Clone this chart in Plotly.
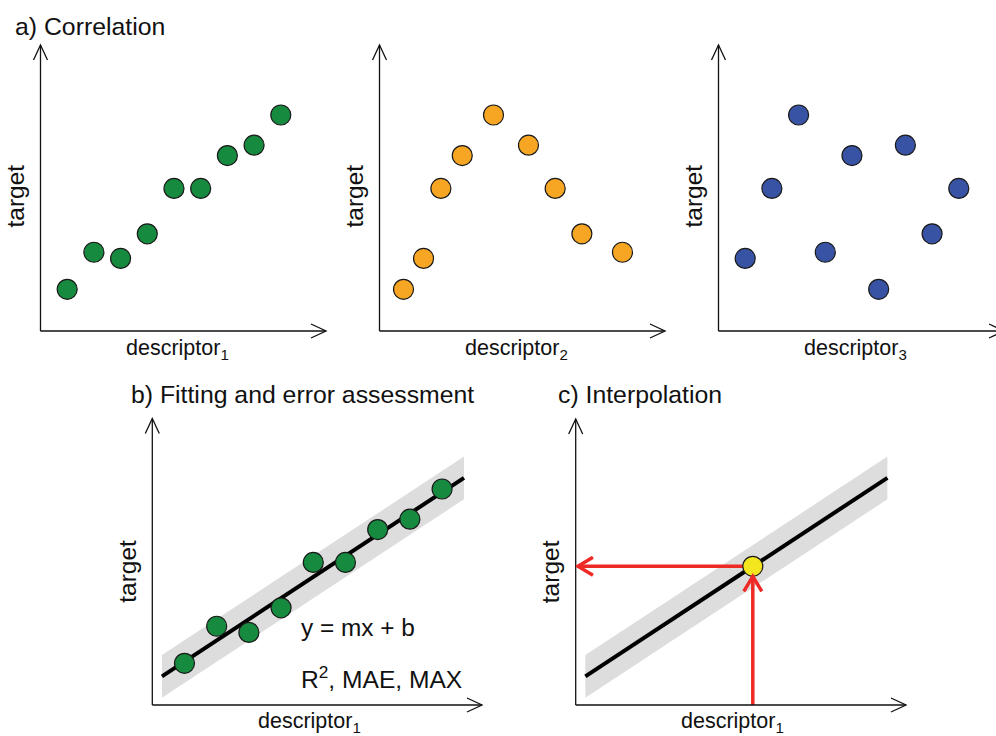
import numpy as np
import plotly.graph_objects as go

W, H = 996, 736

# ---------------- data ----------------
desc1 = [1, 2, 3, 4, 5, 6, 7, 8, 9]
target1 = [1.56, 2.95, 2.72, 3.64, 5.34, 5.34, 6.57, 6.96, 8.09]
desc2 = [0.9, 1.65, 2.3, 3.1, 4.27, 5.58, 6.58, 7.58, 9.1]
target2 = [1.56, 2.72, 5.34, 6.57, 8.09, 6.96, 5.34, 3.64, 2.95]
desc3 = [1, 2, 3, 4, 5, 6, 7, 8, 9]
target3 = [2.72, 5.34, 8.09, 2.95, 6.57, 1.56, 6.96, 3.64, 5.34]
fit_x_span = [0.3, 9.68]
band_halfwidth = 0.8
query_x = 5.5
arrow_tip_x = 0.07

panel_titles = ["a) Correlation", "b) Fitting and error assessment", "c) Interpolation"]
x_labels = ["descriptor<sub>1</sub>", "descriptor<sub>2</sub>", "descriptor<sub>3</sub>",
            "descriptor<sub>1</sub>", "descriptor<sub>1</sub>"]
y_label = "target"
eq_text = "y = mx + b"
metric_text = "R<sup>2</sup>, MAE, MAX"

# ---------------- styles ----------------
FONT = "Liberation Sans, Arial, Helvetica, sans-serif"
INK = "#111111"
GREEN = "#168A3E"
ORANGE = "#F6A623"
BLUE = "#3953A4"
YELLOW = "#F2E71E"
RED = "#EE2A26"
BAND = "#DDDDDD"

# panel geometry in pixels: origin (ox, oy), top, right end of x axis, px per unit
panels = [
    dict(ox=40.5, oy=331, top=45, xend=326, sx=26.7, sy=26.7),
    dict(ox=379.5, oy=331, top=45, xend=665, sx=26.7, sy=26.7),
    dict(ox=718.5, oy=331, top=45, xend=1004, sx=26.7, sy=26.7),
    dict(ox=152.3, oy=705, top=418.5, xend=482, sx=32.2, sy=26.7),
    dict(ox=575.7, oy=705, top=419, xend=906, sx=32.2, sy=26.7),
]


def PX(x):
    return x / W


def PY(y):
    return 1 - y / H


fig = go.Figure()
layout = dict(width=W, height=H, margin=dict(l=0, r=0, t=0, b=0),
              paper_bgcolor="white", plot_bgcolor="rgba(0,0,0,0)",
              showlegend=False, hovermode=False)
shapes = []
annotations = []

for i, p in enumerate(panels):
    k = "" if i == 0 else str(i + 1)
    right = min(p["xend"], W)
    layout["xaxis" + k] = dict(domain=[PX(p["ox"]), PX(right)],
                               range=[0, (right - p["ox"]) / p["sx"]],
                               anchor="y" + k, visible=False, fixedrange=True)
    layout["yaxis" + k] = dict(domain=[PY(p["oy"]), PY(p["top"])],
                               range=[0, (p["oy"] - p["top"]) / p["sy"]],
                               anchor="x" + k, visible=False, fixedrange=True)
    # axis lines
    axl = dict(color=INK, width=1.3)
    shapes.append(dict(type="line", xref="paper", yref="paper",
                       x0=PX(p["ox"]), y0=PY(p["oy"]), x1=PX(p["ox"]), y1=PY(p["top"]), line=axl))
    shapes.append(dict(type="line", xref="paper", yref="paper",
                       x0=PX(p["ox"]), y0=PY(p["oy"]), x1=PX(p["xend"]), y1=PY(p["oy"]), line=axl))
    # open arrow heads
    shapes.append(dict(type="path", xref="paper", yref="paper", xsizemode="pixel", ysizemode="pixel",
                       xanchor=PX(p["ox"]), yanchor=PY(p["top"]),
                       path="M -7 -15 L 0 0 L 7 -15", line=axl))
    shapes.append(dict(type="path", xref="paper", yref="paper", xsizemode="pixel", ysizemode="pixel",
                       xanchor=PX(p["xend"]), yanchor=PY(p["oy"]),
                       path="M -15 7 L 0 0 L -15 -7", line=axl))
    # axis titles
    cy = (p["oy"] + p["top"]) / 2 + 8 if i < 3 else 571.5
    annotations.append(dict(text=y_label, textangle=-90, xref="paper", yref="paper",
                            x=PX(p["ox"] - 25), y=PY(cy), xanchor="center", yanchor="middle",
                            showarrow=False, borderpad=0, font=dict(size=24.5, family=FONT, color=INK)))
    lx = p["ox"] + (137 if i < 3 else 157)
    ly = p["oy"] + (18 if i < 3 else 17.5)
    annotations.append(dict(text=x_labels[i], xref="paper", yref="paper",
                            x=PX(lx), y=PY(ly), xanchor="center", yanchor="middle",
                            showarrow=False, borderpad=0, font=dict(size=21.5, family=FONT, color=INK)))

marker_line = dict(color="#1a1a1a", width=1.2)

# panel a scatter plots
for (xs, ys, col, ax) in [(desc1, target1, GREEN, ""), (desc2, target2, ORANGE, "2"), (desc3, target3, BLUE, "3")]:
    fig.add_trace(go.Scatter(x=xs, y=ys, mode="markers", xaxis="x" + ax, yaxis="y" + ax,
                             marker=dict(size=20, color=col, line=marker_line)))

# linear fit
m, b = np.polyfit(desc1, target1, 1)
fx = np.array(fit_x_span)
fy = m * fx + b
band_x = [fx[0], fx[1], fx[1], fx[0], fx[0]]
band_y = [fy[0] + band_halfwidth, fy[1] + band_halfwidth, fy[1] - band_halfwidth,
          fy[0] - band_halfwidth, fy[0] + band_halfwidth]

for ax in ["4", "5"]:
    fig.add_trace(go.Scatter(x=band_x, y=band_y, mode="lines", fill="toself", fillcolor=BAND,
                             line=dict(width=0, color=BAND), xaxis="x" + ax, yaxis="y" + ax))
    fig.add_trace(go.Scatter(x=fx, y=fy, mode="lines", line=dict(color="black", width=4),
                             xaxis="x" + ax, yaxis="y" + ax))

fig.add_trace(go.Scatter(x=desc1, y=target1, mode="markers", xaxis="x4", yaxis="y4",
                         marker=dict(size=20, color=GREEN, line=marker_line)))

# interpolation
query_y = m * query_x + b
r_y = 10 / panels[4]["sy"]
r_x = 10 / panels[4]["sx"]
red_line = dict(color=RED, width=3.5)
fig.add_trace(go.Scatter(x=[query_x, query_x], y=[0, query_y - r_y], mode="lines", line=red_line,
                         xaxis="x5", yaxis="y5", cliponaxis=False))
fig.add_trace(go.Scatter(x=[query_x - r_x, arrow_tip_x], y=[query_y, query_y], mode="lines", line=red_line,
                         xaxis="x5", yaxis="y5", cliponaxis=False))
shapes.append(dict(type="path", xref="x5", yref="y5", xsizemode="pixel", ysizemode="pixel",
                   xanchor=arrow_tip_x, yanchor=query_y, path="M 15 9 L 0 0 L 15 -9", line=red_line))
shapes.append(dict(type="path", xref="x5", yref="y5", xsizemode="pixel", ysizemode="pixel",
                   xanchor=query_x, yanchor=query_y - r_y, path="M -9 -15 L 0 0 L 9 -15", line=red_line))
fig.add_trace(go.Scatter(x=[query_x], y=[query_y], mode="markers", xaxis="x5", yaxis="y5",
                         marker=dict(size=20, color=YELLOW, line=marker_line)))

# panel titles
for t, (x, y) in zip(panel_titles, [(14, 26.7), (130, 394), (557, 394)]):
    annotations.append(dict(text=t, xref="paper", yref="paper", x=PX(x), y=PY(y),
                            xanchor="left", yanchor="middle", showarrow=False, borderpad=0,
                            font=dict(size=24.8, family=FONT, color=INK)))

# equation texts
annotations.append(dict(text=eq_text, xref="paper", yref="paper", x=PX(300), y=PY(627.5),
                        xanchor="left", yanchor="middle", showarrow=False, borderpad=0,
                        font=dict(size=24.4, family=FONT, color=INK)))
annotations.append(dict(text=metric_text, xref="paper", yref="paper", x=PX(300), y=PY(677),
                        xanchor="left", yanchor="middle", showarrow=False, borderpad=0,
                        font=dict(size=24.6, family=FONT, color=INK)))

layout["shapes"] = shapes
layout["annotations"] = annotations
fig.update_layout(**layout)
fig.write_html("out.html")
